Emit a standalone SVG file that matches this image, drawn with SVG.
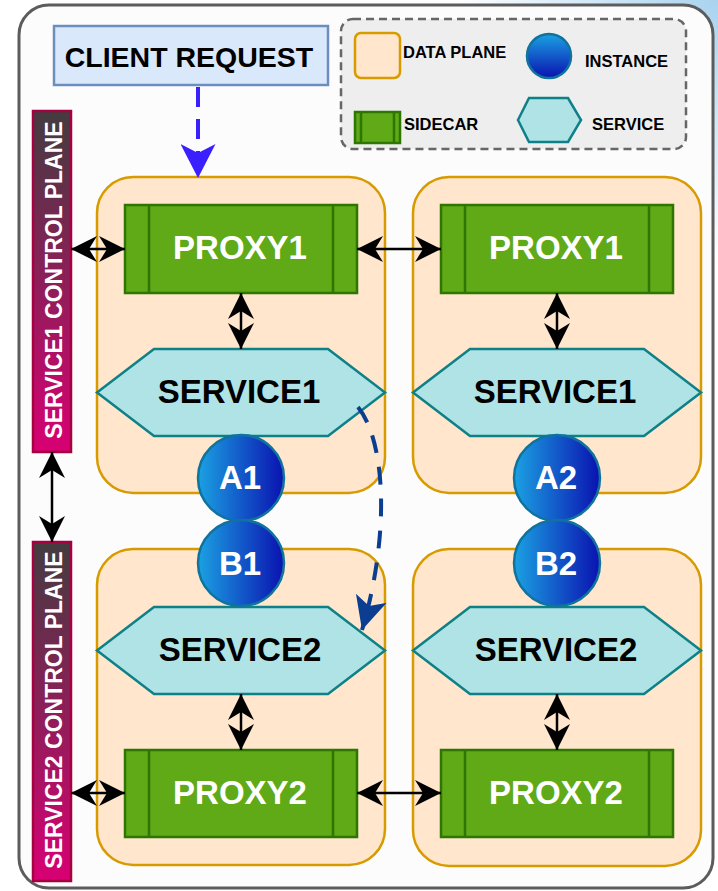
<svg xmlns="http://www.w3.org/2000/svg" width="718" height="891" viewBox="0 0 718 891">
<defs>
  <radialGradient id="bgGlow" cx="718" cy="0" r="260" gradientUnits="userSpaceOnUse">
    <stop offset="0" stop-color="#a9d3ef"/>
    <stop offset="0.5" stop-color="#d3e9f7"/>
    <stop offset="1" stop-color="#ffffff"/>
  </radialGradient>
  <linearGradient id="cpGrad" x1="0" y1="0" x2="0" y2="1">
    <stop offset="0" stop-color="#433c3f"/>
    <stop offset="1" stop-color="#d80073"/>
  </linearGradient>
  <linearGradient id="instH" x1="0" y1="0" x2="1" y2="0">
    <stop offset="0" stop-color="#1ba1e2"/>
    <stop offset="1" stop-color="#0a12b0"/>
  </linearGradient>
  <linearGradient id="instV" x1="0" y1="0" x2="0" y2="1">
    <stop offset="0" stop-color="#1ba1e2"/>
    <stop offset="1" stop-color="#0a12b0"/>
  </linearGradient>
  <marker id="ah" markerUnits="userSpaceOnUse" markerWidth="26" markerHeight="26" viewBox="0 0 26 26" refX="26" refY="13" orient="auto-start-reverse">
    <path d="M26 13 L0 0 L8 13 L0 26 Z" fill="#000"/>
  </marker>
  <marker id="ahBlue" markerUnits="userSpaceOnUse" markerWidth="34" markerHeight="35" viewBox="0 0 34 35" refX="34" refY="17.5" orient="auto">
    <path d="M34 17.5 L0 0 L9 17.5 L0 35 Z" fill="#3a1fff"/>
  </marker>
  <marker id="ahNavy" markerUnits="userSpaceOnUse" markerWidth="33" markerHeight="32" viewBox="0 0 33 32" refX="33" refY="16" orient="auto">
    <path d="M33 16 L0 0 L8 16 L0 32 Z" fill="#0b3d91"/>
  </marker>
</defs>
<style>
  text { font-family: "Liberation Sans", Arial, sans-serif; font-weight: bold; }
  .plane { fill: #ffe6cc; stroke: #d79b00; stroke-width: 2.5; }
  .proxy { fill: #60a917; stroke: #2d7600; stroke-width: 2.5; }
  .proxyline { stroke: #2d7600; stroke-width: 2.5; fill: none; }
  .svc { fill: #b0e3e6; stroke: #0e8088; stroke-width: 2.5; }
  .inst { fill: url(#instH); stroke: #10739e; stroke-width: 2.5; }
  .cp { fill: url(#cpGrad); stroke: #a50040; stroke-width: 2.5; }
  .big { font-size: 33px; text-anchor: middle; }
  .white { fill: #ffffff; }
  .black { fill: #000000; }
  .leg { font-size: 16.5px; fill: #000; }
  .cptext { font-size: 23px; fill: #fff; text-anchor: middle; }
  .conn { stroke: #000; stroke-width: 2.5; fill: none; marker-start: url(#ah); marker-end: url(#ah); }
</style>

<rect x="0" y="0" width="718" height="891" fill="url(#bgGlow)"/>

<g id="outer">
  <rect x="19" y="5" width="694" height="883" rx="30" fill="#fcfcfd" stroke="#5c5c5c" stroke-width="3"/>
</g>

<g id="legend">
  <rect x="341" y="19" width="345" height="130" rx="12" fill="#eeeeee" stroke="#666666" stroke-width="2.5" stroke-dasharray="8 5"/>
  <rect x="355" y="33" width="45" height="45" rx="6" class="plane"/>
  <text x="403" y="58" class="leg">DATA PLANE</text>
  <circle cx="549" cy="56" r="22" fill="url(#instV)" stroke="#10739e" stroke-width="2.5"/>
  <text x="585" y="67" class="leg">INSTANCE</text>
  <rect x="355" y="112" width="45" height="31" class="proxy"/>
  <path d="M361 112 V143 M394 112 V143" class="proxyline"/>
  <text x="404" y="130" class="leg">SIDECAR</text>
  <polygon points="518,120 529,98 568,98 581,120 568,142 529,142" class="svc"/>
  <text x="592" y="130" class="leg">SERVICE</text>
</g>

<g id="client-request">
  <rect x="54" y="26" width="274" height="59" fill="#dae8fc" stroke="#6c8ebf" stroke-width="2.5"/>
  <text x="189" y="67" font-size="28.5" text-anchor="middle" fill="#000">CLIENT REQUEST</text>
</g>

<g id="service1-control-plane">
  <rect x="33" y="111" width="38" height="341" class="cp"/>
  <text transform="translate(62 280) rotate(-90)" class="cptext">SERVICE1 CONTROL PLANE</text>
</g>
<g id="service2-control-plane">
  <rect x="33" y="542" width="38" height="339" class="cp"/>
  <text transform="translate(62 710) rotate(-90)" class="cptext">SERVICE2 CONTROL PLANE</text>
</g>

<g id="dataplane-1a"><rect x="97" y="177" width="288" height="316" rx="36" class="plane"/></g>
<g id="dataplane-2a"><rect x="413" y="177" width="288" height="316" rx="36" class="plane"/></g>
<g id="dataplane-1b"><rect x="97" y="549" width="288" height="316" rx="36" class="plane"/></g>
<g id="dataplane-2b"><rect x="413" y="549" width="288" height="317" rx="36" class="plane"/></g>

<g id="proxy1-a">
  <rect x="125" y="205" width="232" height="88" class="proxy"/>
  <path d="M149 205 V293 M333 205 V293" class="proxyline"/>
  <text x="240" y="259" class="big white">PROXY1</text>
</g>
<g id="proxy1-b">
  <rect x="441" y="205" width="232" height="88" class="proxy"/>
  <path d="M465 205 V293 M649 205 V293" class="proxyline"/>
  <text x="556" y="259" class="big white">PROXY1</text>
</g>
<g id="proxy2-a">
  <rect x="125" y="750" width="232" height="87" class="proxy"/>
  <path d="M149 750 V837 M333 750 V837" class="proxyline"/>
  <text x="240" y="804" class="big white">PROXY2</text>
</g>
<g id="proxy2-b">
  <rect x="441" y="750" width="232" height="87" class="proxy"/>
  <path d="M465 750 V837 M649 750 V837" class="proxyline"/>
  <text x="556" y="804" class="big white">PROXY2</text>
</g>

<g id="service1-a">
  <polygon points="97,392.5 154,349 328,349 385,392.5 328,436 154,436" class="svc"/>
  <text x="239" y="403" class="big black">SERVICE1</text>
</g>
<g id="service1-b">
  <polygon points="413,392.5 470,349 644,349 701,392.5 644,436 470,436" class="svc"/>
  <text x="555" y="403" class="big black">SERVICE1</text>
</g>
<g id="service2-a">
  <polygon points="97,650.5 154,607 328,607 385,650.5 328,694 154,694" class="svc"/>
  <text x="240" y="661" class="big black">SERVICE2</text>
</g>
<g id="service2-b">
  <polygon points="413,650.5 470,607 644,607 701,650.5 644,694 470,694" class="svc"/>
  <text x="556" y="661" class="big black">SERVICE2</text>
</g>

<g id="instance-a1">
  <circle cx="241" cy="478" r="43" class="inst"/>
  <text x="240" y="489" class="big white" font-size="32">A1</text>
</g>
<g id="instance-a2">
  <circle cx="557" cy="478" r="43" class="inst"/>
  <text x="556" y="489" class="big white" font-size="32">A2</text>
</g>
<g id="instance-b1">
  <circle cx="241" cy="563" r="43" class="inst"/>
  <text x="240" y="575" class="big white" font-size="32">B1</text>
</g>
<g id="instance-b2">
  <circle cx="557" cy="563" r="43" class="inst"/>
  <text x="556" y="575" class="big white" font-size="32">B2</text>
</g>

<g id="connectors">
  <path d="M198 87 V178" stroke="#3a1fff" stroke-width="4" stroke-dasharray="20 12" fill="none" marker-end="url(#ahBlue)"/>
  <path d="M358 407 C386 442, 390 535, 362 630" stroke="#0b3d91" stroke-width="4" stroke-dasharray="18 14" fill="none" marker-end="url(#ahNavy)"/>
  <path d="M52 452 V542" class="conn"/>
  <path d="M71 249 H125" class="conn"/>
  <path d="M357 249 H441" class="conn"/>
  <path d="M241 293 V349" class="conn"/>
  <path d="M557 293 V349" class="conn"/>
  <path d="M241 694 V750" class="conn"/>
  <path d="M557 694 V750" class="conn"/>
  <path d="M71 793 H125" class="conn"/>
  <path d="M357 793 H441" class="conn"/>
</g>
</svg>
